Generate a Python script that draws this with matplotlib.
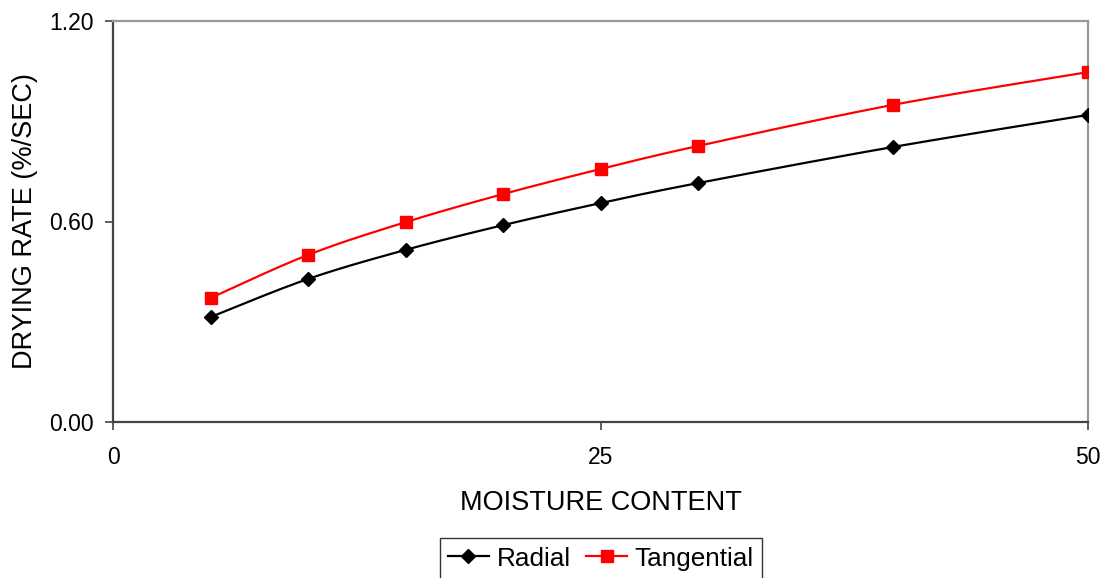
import numpy as np
import matplotlib
matplotlib.use("Agg")
import matplotlib.pyplot as plt
from matplotlib.lines import Line2D

plt.rcParams['font.family'] = ['Liberation Sans', 'DejaVu Sans']

moisture = [5, 10, 15, 20, 25, 30, 40, 50]
radial = [0.314, 0.428, 0.515, 0.589, 0.655, 0.715, 0.823, 0.919]
tangential = [0.371, 0.500, 0.598, 0.682, 0.757, 0.826, 0.949, 1.047]
x_ticks = [0, 25, 50]
y_ticks = [0.0, 0.6, 1.2]


def smooth_curve(x, y, steps=30):
    """Cubic Bezier smoothing through the points (Catmull-Rom style tangents)."""
    x = np.asarray(x, float)
    y = np.asarray(y, float)
    px = np.concatenate([[x[0]], x, [x[-1]]])
    py = np.concatenate([[y[0]], y, [y[-1]]])
    xs, ys = [], []
    t = np.linspace(0, 1, steps)
    for i in range(1, len(px) - 2):
        p0 = np.array([px[i], py[i]])
        p3 = np.array([px[i + 1], py[i + 1]])
        p1 = p0 + (np.array([px[i + 1], py[i + 1]]) - np.array([px[i - 1], py[i - 1]])) / 6
        p2 = p3 - (np.array([px[i + 2], py[i + 2]]) - np.array([px[i], py[i]])) / 6
        b = ((1 - t) ** 3)[:, None] * p0 + (3 * (1 - t) ** 2 * t)[:, None] * p1 \
            + (3 * (1 - t) * t ** 2)[:, None] * p2 + (t ** 3)[:, None] * p3
        xs.extend(b[:, 0])
        ys.extend(b[:, 1])
    return xs, ys


fig = plt.figure(figsize=(11.10, 5.78), dpi=100)
ax = fig.add_axes([113 / 1110, 1 - 422 / 578, (1088 - 113) / 1110, (422 - 21) / 578])

sx, sy = smooth_curve(moisture, radial)
ax.plot(sx, sy, color='black', lw=1.6, zorder=3)
ax.plot(moisture, radial, ls='none', marker='D', ms=7, color='black', zorder=4)

sx, sy = smooth_curve(moisture, tangential)
ax.plot(sx, sy, color='#ff0000', lw=1.6, zorder=3)
ax.plot(moisture, tangential, ls='none', marker='s', ms=8.5, color='#ff0000', zorder=4)

ax.set_xlim(0, 50)
ax.set_ylim(0, 1.2)
ax.set_xticks(x_ticks)
ax.set_yticks(y_ticks)
ax.set_yticklabels([f"{v:.2f}" for v in y_ticks])
ax.tick_params(axis='both', direction='out', length=6, width=1.2, colors='#444444',
               labelsize=16.5, labelcolor='black')
ax.tick_params(axis='y', pad=8)
ax.tick_params(axis='x', pad=11.5)

ax.set_xlabel('MOISTURE CONTENT', fontsize=19.5, labelpad=15)
ax.set_ylabel('DRYING RATE (%/SEC)', fontsize=19.5, labelpad=8)

for side in ['left', 'bottom']:
    ax.spines[side].set_color('#444444')
    ax.spines[side].set_linewidth(1.6)
for side in ['top', 'right']:
    ax.spines[side].set_color('#999999')
    ax.spines[side].set_linewidth(1.6)

handles = [
    Line2D([], [], color='black', lw=1.6, marker='D', ms=7),
    Line2D([], [], color='#ff0000', lw=1.6, marker='s', ms=8.5),
]
leg = fig.legend(handles, ['Radial', 'Tangential'], loc='upper center',
                 bbox_to_anchor=(601 / 1110, 1 - 538 / 578), ncol=2, frameon=True,
                 fancybox=False, edgecolor='black', fontsize=18.8,
                 handlelength=1.55, handletextpad=0.3, columnspacing=0.6,
                 borderpad=0.33, borderaxespad=0)
leg.get_frame().set_linewidth(1.0)

fig.savefig('out.png', dpi=100, facecolor='white')
